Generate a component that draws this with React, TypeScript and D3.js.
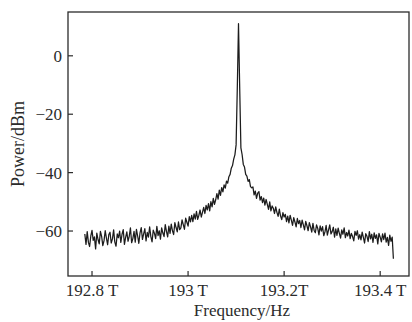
import React from "react";
import * as d3 from "d3";

// sweep settings (THz) and the trace, one value per sweep point
const sweepStart = 192.785;
const sweepStep = 0.0025;
const powerDbm = [
  -61.0, -64.6, -60.2, -63.9, -65.3, -61.7, -59.8, -63.2, -62.0, -66.1,
  -60.7, -62.9, -64.4, -60.1, -61.8, -65.0, -63.3, -59.9, -62.4, -64.7,
  -61.2, -60.4, -64.1, -62.7, -59.6, -63.8, -65.2, -61.0, -62.3, -60.0,
  -63.9, -61.1, -59.5, -64.6, -62.2, -60.3, -63.5, -61.8, -58.9, -64.0,
  -62.6, -60.1, -63.8, -59.4, -61.7, -64.2, -60.6, -58.8, -62.9, -61.0,
  -59.2, -63.4, -60.5, -62.1, -58.6, -61.9, -63.7, -59.7, -60.8, -62.6,
  -58.4, -61.6, -59.9, -62.8, -58.9, -60.7, -61.9, -57.8, -60.1, -62.0,
  -58.3, -60.8, -57.6, -59.9, -61.2, -57.1, -58.8, -60.3, -56.9, -59.5,
  -58.9, -56.2, -57.8, -59.4, -55.6, -57.0, -58.3, -55.1, -56.9, -54.6,
  -56.8, -54.1, -55.9, -53.3, -56.0, -54.6, -52.8, -55.2, -53.6, -51.9,
  -54.0, -51.2, -52.8, -50.6, -53.1, -49.9, -51.7, -48.8, -50.9, -49.3,
  -47.2, -49.1, -46.0, -47.8, -45.1, -46.6, -44.2, -45.3, -42.9, -43.6,
  -41.4, -40.6, -38.5, -37.6, -35.4, -33.9, -30.5, -11.0, 11.0, -11.0,
  -31.5, -33.8, -37.2, -38.1, -40.6, -41.2, -43.0, -42.4, -44.8, -45.2,
  -44.9, -47.6, -46.3, -48.8, -47.0, -46.5, -49.4, -48.2, -50.3, -48.7,
  -51.1, -49.2, -50.9, -52.6, -50.0, -53.1, -51.4, -52.2, -54.0, -51.7,
  -53.6, -55.0, -52.5, -54.8, -56.1, -53.7, -55.2, -54.3, -56.8, -54.9,
  -57.2, -54.6, -56.3, -58.1, -55.4, -56.9, -58.6, -55.7, -57.5, -56.4,
  -58.8, -56.3, -57.9, -59.6, -56.7, -58.2, -59.9, -57.1, -58.6, -60.4,
  -57.4, -59.8, -60.6, -57.9, -59.1, -61.3, -58.2, -60.0, -58.5, -61.6,
  -60.3, -58.1, -61.4, -59.6, -57.9, -61.0, -60.2, -58.7, -62.1, -59.3,
  -61.5, -59.0, -60.8, -62.4, -59.6, -61.1, -58.9, -62.3, -60.5, -61.7,
  -59.7, -62.6, -60.8, -61.9, -63.4, -60.1, -61.5, -59.9, -62.8, -61.2,
  -63.0, -60.4, -62.2, -64.1, -60.9, -61.8, -63.6, -60.2, -62.7, -61.1,
  -63.9, -60.6, -62.5, -61.3, -64.4, -60.8, -62.1, -63.7, -61.0, -62.9,
  -60.7, -63.8, -62.2, -64.9, -61.4, -63.5, -62.1, -69.5,
];

const xTicks = [192.8, 193.0, 193.2, 193.4];
const xTickLabels = ["192.8 T", "193 T", "193.2T", "193.4 T"];
const yTicks = [0, -20, -40, -60];
const yTickLabels = ["0", "\u221220", "\u221240", "\u221260"];

const W = 412;
const H = 322;
const margin = { left: 68, top: 12, right: 3, bottom: 46 };
const font = "'Liberation Serif', 'Times New Roman', serif";
const ink = "#2b2b2b";

export default function App() {
  const x = d3
    .scaleLinear()
    .domain([192.75, 193.46])
    .range([margin.left, W - margin.right]);
  const y = d3
    .scaleLinear()
    .domain([-75.4, 15])
    .range([H - margin.bottom, margin.top]);

  const line = d3
    .line<number>()
    .x((d, i) => x(sweepStart + i * sweepStep))
    .y(d => y(d));

  const x0 = margin.left;
  const x1 = W - margin.right;
  const y0 = H - margin.bottom;
  const y1 = margin.top;

  return (
    <svg
      width={W}
      height={H}
      style={{ position: "absolute", left: 0, top: 0, background: "#fff" }}
      fontFamily={font}
    >
      <path d={line(powerDbm) || ""} fill="none" stroke="#1c1c1c" strokeWidth={1.25} strokeLinejoin="round" />
      <rect x={x0} y={y1} width={x1 - x0} height={y0 - y1} fill="none" stroke={ink} strokeWidth={1.3} />
      {yTicks.map((t, i) => (
        <g key={t}>
          <line x1={x0} x2={x0 + 5} y1={y(t)} y2={y(t)} stroke={ink} strokeWidth={1.2} />
          <text x={x0 - 6} y={y(t)} dy="0.35em" textAnchor="end" fontSize={17} fill={ink}>
            {yTickLabels[i]}
          </text>
        </g>
      ))}
      {xTicks.map((t, i) => (
        <g key={t}>
          <line x1={x(t)} x2={x(t)} y1={y0} y2={y0 - 5} stroke={ink} strokeWidth={1.2} />
          <text x={x(t)} y={y0 + 20} textAnchor="middle" fontSize={17} fill={ink}>
            {xTickLabels[i]}
          </text>
        </g>
      ))}
      <text x={242} y={316} textAnchor="middle" fontSize={17} fill={ink}>
        Frequency/Hz
      </text>
      <text
        transform={`translate(24 ${144}) rotate(-90)`}
        textAnchor="middle"
        fontSize={18}
        fill={ink}
      >
        Power/dBm
      </text>
    </svg>
  );
}
